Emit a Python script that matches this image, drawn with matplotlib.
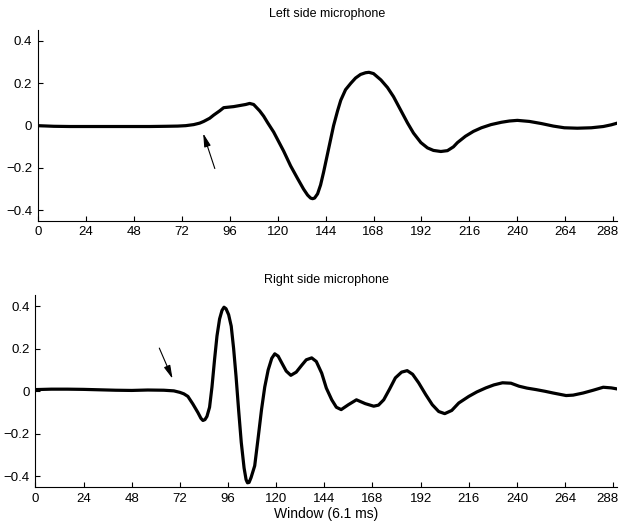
import numpy as np
import matplotlib.pyplot as plt
import matplotlib.transforms as mtransforms

plt.rcParams['font.family'] = ['Liberation Sans', 'DejaVu Sans']

# left side microphone
left_x = [0, 8, 16, 24, 32, 40, 48, 56, 64, 70, 74, 78, 81, 83, 86, 88, 91, 93, 96, 98, 101, 104, 106, 108,
          111, 113, 115, 118, 120, 123, 126.5, 130, 133, 135, 136.5, 137.5, 138.5, 140, 141.5, 143, 145.5,
          148, 150, 151.6, 154, 156.6, 159, 161.5, 164, 165.7, 168, 171.7, 175, 178, 181.5, 185, 188, 191.7,
          195, 198, 201.7, 205, 208, 210, 214, 218, 222, 226.8, 232, 236, 240, 246, 252, 258, 263.5, 270,
          277, 283, 287, 290]
left_y = [0.0, -0.003, -0.004, -0.004, -0.004, -0.004, -0.004, -0.004, -0.003, -0.002, 0.0, 0.005, 0.012, 0.02,
          0.035, 0.05, 0.07, 0.085, 0.088, 0.09, 0.095, 0.1, 0.105, 0.1, 0.07, 0.045, 0.014, -0.03, -0.066,
          -0.12, -0.19, -0.25, -0.3, -0.328, -0.342, -0.345, -0.342, -0.322, -0.28, -0.22, -0.11, 0.0, 0.07,
          0.12, 0.17, 0.2, 0.225, 0.242, 0.25, 0.252, 0.246, 0.216, 0.18, 0.137, 0.075, 0.013, -0.035, -0.08,
          -0.105, -0.117, -0.122, -0.118, -0.1, -0.08, -0.05, -0.027, -0.01, 0.005, 0.016, 0.022, 0.025, 0.02,
          0.01, -0.002, -0.01, -0.012, -0.01, -0.004, 0.004, 0.012]

# right side microphone
right_x = [0, 8, 16, 24, 32, 40, 48, 56, 64, 69, 72, 74, 76, 78.5, 81, 82.5, 83.5, 84.5, 85.5, 86.8, 88,
           89.3, 90.5, 91.8, 93, 94, 95, 96.3, 97.6, 98.8, 100, 101.3, 102.6, 104, 105, 105.7, 106.5, 107.5,
           109.3, 111, 112.7, 114.3, 116, 117.8, 119.3, 121, 122.7, 125, 127.3, 130, 132.7, 135, 137.7, 140,
           142.7, 145, 147.7, 150, 152.4, 156, 160, 164.4, 168.6, 171, 173.6, 176.5, 179.4, 182.5, 185.3,
           188, 191, 194.5, 197.8, 201, 204, 207.5, 211, 216, 220, 224.5, 228.5, 232.8, 237, 241, 245, 249.5,
           254, 258, 264.5, 268, 273, 278, 283, 287, 290]
right_y = [0.008, 0.01, 0.01, 0.009, 0.007, 0.005, 0.004, 0.006, 0.005, 0.002, -0.005, -0.012, -0.024,
           -0.06, -0.1, -0.127, -0.137, -0.133, -0.118, -0.075, 0.02, 0.15, 0.26, 0.34, 0.38, 0.395, 0.388,
           0.36, 0.306, 0.2, 0.07, -0.09, -0.24, -0.36, -0.415, -0.43, -0.428, -0.405, -0.35, -0.22, -0.086,
           0.02, 0.1, 0.155, 0.176, 0.165, 0.135, 0.095, 0.075, 0.09, 0.122, 0.148, 0.157, 0.14, 0.085, 0.015,
           -0.04, -0.075, -0.086, -0.063, -0.04, -0.058, -0.07, -0.065, -0.04, 0.01, 0.063, 0.09, 0.097, 0.08,
           0.04, -0.015, -0.063, -0.095, -0.105, -0.09, -0.055, -0.024, -0.003, 0.016, 0.03, 0.04, 0.038,
           0.024, 0.015, 0.008, 0.0, -0.008, -0.02, -0.018, -0.008, 0.005, 0.019, 0.016, 0.011]

xticks = np.arange(0, 289, 24)
yticks = [-0.4, -0.2, 0, 0.2, 0.4]

fig = plt.figure(figsize=(6.21, 5.26), dpi=100)
ax1 = fig.add_axes([0.061, 0.580, 0.933, 0.363])
ax2 = fig.add_axes([0.057, 0.074, 0.937, 0.365])

def style(ax, title):
  ax.set_xlim(0, 290)
  ax.set_ylim(-0.45, 0.452)
  ax.set_xticks(xticks)
  ax.set_yticks(yticks)
  ax.set_yticklabels(['\u22120.4', '\u22120.2', '0', '0.2', '0.4'])
  for s in ['top', 'right']:
    ax.spines[s].set_visible(False)
  for s in ['left', 'bottom']:
    ax.spines[s].set_linewidth(0.8)
  ax.tick_params(direction='in', length=3.5, width=0.8, labelsize=9.5, pad=4)
  ax.set_title(title, fontsize=9, pad=9)
  # nudge the last x label so it stays inside the figure
  last = ax.get_xticklabels()[-1]
  last.set_transform(last.get_transform() + mtransforms.ScaledTranslation(-4/72, 0, fig.dpi_scale_trans))

ax1.plot(left_x, left_y, color='black', lw=2.3, solid_joinstyle='round', solid_capstyle='round')
style(ax1, 'Left side microphone')
ax1.annotate('', xy=(82.3, -0.024), xytext=(89, -0.215),
             arrowprops=dict(arrowstyle='-|>,head_length=0.8,head_width=0.2', lw=0.8, color='black'))

ax2.plot(right_x, right_y, color='black', lw=2.3, solid_joinstyle='round', solid_capstyle='round')
style(ax2, 'Right side microphone')
ax2.annotate('', xy=(68.9, 0.047), xytext=(61.2, 0.215),
             arrowprops=dict(arrowstyle='-|>,head_length=0.8,head_width=0.2', lw=0.8, color='black'))
ax2.set_xlabel('Window (6.1 ms)', fontsize=10, labelpad=2)

fig.savefig('out.png', dpi=100)
